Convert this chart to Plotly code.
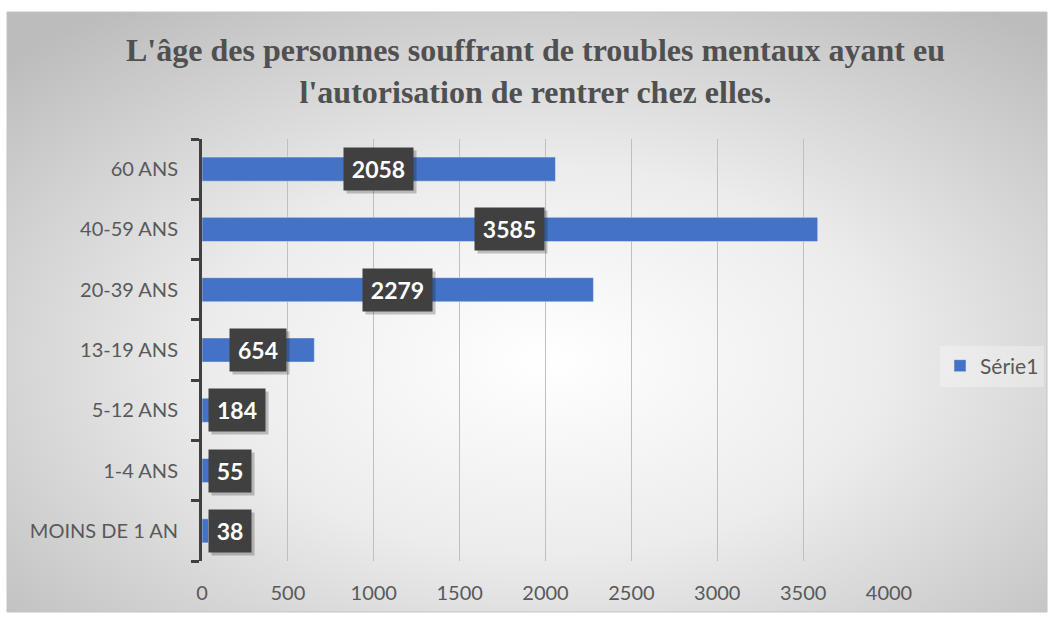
import plotly.graph_objects as go
import base64

categories = ["MOINS DE 1 AN", "1-4 ANS", "5-12 ANS", "13-19 ANS", "20-39 ANS", "40-59 ANS", "60 ANS"]
values = [38, 55, 184, 654, 2279, 3585, 2058]
series_name = "Série1"
x_ticks = [0, 500, 1000, 1500, 2000, 2500, 3000, 3500, 4000]
title_text = "L'âge des personnes souffrant de troubles mentaux ayant eu<br>l'autorisation de rentrer chez elles."

W, H = 1052, 617
L, R, T, B = 202, 889, 139, 561  # plot area in pixels
FX0, FX1, FY0, FY1 = 7, 1047, 12, 612  # chart frame in pixels

def px_to_paper_x(px):
    return (px - L) / (R - L)

def px_to_paper_y(py):
    return (B - py) / (B - T)

svg = (
    '<svg xmlns="http://www.w3.org/2000/svg" width="1040" height="600" preserveAspectRatio="none">'
    '<defs><radialGradient id="g" cx="52%" cy="58%" r="72%">'
    '<stop offset="0%" stop-color="#ffffff"/>'
    '<stop offset="45%" stop-color="#ececec"/>'
    '<stop offset="100%" stop-color="#bcbcbc"/>'
    '</radialGradient></defs>'
    '<rect x="0" y="0" width="1040" height="600" fill="url(#g)"/></svg>'
)
svg_uri = "data:image/svg+xml;base64," + base64.b64encode(svg.encode()).decode()

fig = go.Figure()
fig.add_trace(go.Bar(
    y=categories, x=values, orientation="h", name=series_name,
    marker=dict(color="#4472C4"), showlegend=True,
))

label_font = dict(family="Lato", size=23, color="white")
for cat, v in zip(categories, values):
    nd = len(str(v))
    bw = int(13.4 * nd) + 2
    if v / 2 > 200:
        xa, xs, anchor = v / 2, 0, "center"
    else:
        xa, xs, anchor = 0, 6, "left"
    # shadow box
    fig.add_annotation(x=xa, y=cat, text="&nbsp;", showarrow=False,
                       xanchor=anchor, xshift=xs + 3, yshift=-3, width=bw, height=28,
                       bgcolor="rgba(0,0,0,0.22)", borderpad=7,
                       font=dict(family="Lato", size=23, color="rgba(0,0,0,0)"))
    fig.add_annotation(x=xa, y=cat, text="<b>%d</b>" % v, showarrow=False,
                       xanchor=anchor, xshift=xs, width=bw, height=28,
                       bgcolor="#404040", borderpad=7, font=label_font)

fig.add_annotation(xref="paper", yref="paper", x=px_to_paper_x(535), y=px_to_paper_y(71),
                   xanchor="center", yanchor="middle", showarrow=False,
                   text="<b>" + title_text + "</b>",
                   font=dict(family="Liberation Serif", size=32, color="#505050"))

fig.add_layout_image(dict(
    source=svg_uri, xref="paper", yref="paper",
    x=px_to_paper_x(FX0), y=px_to_paper_y(FY0),
    sizex=px_to_paper_x(FX1) - px_to_paper_x(FX0),
    sizey=px_to_paper_y(FY0) - px_to_paper_y(FY1),
    xanchor="left", yanchor="top", sizing="stretch", layer="below",
))
fig.add_shape(type="rect", xref="paper", yref="paper",
              x0=px_to_paper_x(FX0), x1=px_to_paper_x(FX1),
              y0=px_to_paper_y(FY1), y1=px_to_paper_y(FY0),
              line=dict(color="#c4c4c4", width=1), layer="below")

fig.update_layout(
    width=W, height=H,
    margin=dict(l=L, r=W - R, t=T, b=H - B, autoexpand=False),
    paper_bgcolor="white", plot_bgcolor="rgba(0,0,0,0)",
    bargap=0.6,
    legend=dict(x=px_to_paper_x(940), y=px_to_paper_y(366), xanchor="left", yanchor="middle",
                bgcolor="rgba(255,255,255,0.3)", font=dict(family="Lato", size=21, color="#595959"),
                itemwidth=30),
    xaxis=dict(range=[0, 4000], tickvals=x_ticks, showgrid=True, gridcolor="#bfbfbf", gridwidth=1,
               zeroline=False, showline=False, ticks="", automargin=False,
               tickfont=dict(family="Lato", size=20, color="#595959"), ticklabelstandoff=18),
    yaxis=dict(showgrid=False, showline=True, linecolor="#404040", linewidth=3, automargin=False,
               ticks="outside", tickson="boundaries", ticklen=8, tickwidth=3, tickcolor="#404040",
               tickfont=dict(family="Lato", size=20, color="#595959"), ticklabelstandoff=17),
)

fig.write_html("out.html", config={"displayModeBar": False},
               post_script="document.body.style.margin='0px';")
